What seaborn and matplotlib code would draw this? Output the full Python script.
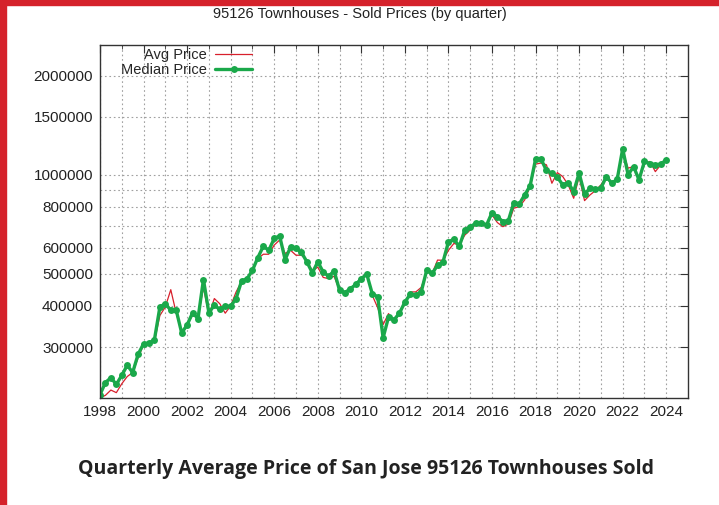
import numpy as np
import pandas as pd
import matplotlib
matplotlib.use("Agg")
import matplotlib.pyplot as plt
from matplotlib.patches import Rectangle
import seaborn as sns

# quarterly sale prices, 1998 Q1 .. 2024 Q1
start_year = 1998
median_price = [
    215000, 234000, 242000, 231000, 246000, 264000, 251000, 285000,
    307000, 308000, 316000, 397000, 406000, 388000, 388000, 331000,
    350000, 381000, 366000, 481000, 381000, 402000, 390000, 399000,
    399000, 421000, 476000, 483000, 513000, 561000, 607000, 590000,
    641000, 652000, 553000, 604000, 598000, 582000, 544000, 504000,
    544000, 507000, 492000, 511000, 446000, 439000, 451000, 465000,
    484000, 499000, 436000, 426000, 320000, 370000, 363000, 380000,
    411000, 434000, 431000, 441000, 513000, 502000, 531000, 544000,
    626000, 637000, 607000, 680000, 696000, 712000, 716000, 704000,
    768000, 746000, 721000, 726000, 823000, 816000, 869000, 926000,
    1117000, 1117000, 1031000, 1012000, 984000, 932000, 947000, 889000,
    1012000, 875000, 910000, 905000, 911000, 988000, 943000, 970000,
    1200000, 1000000, 1060000, 966000, 1098000, 1080000, 1073000, 1078000,
    1111000,
]
avg_price = [
    210000, 214000, 222000, 218000, 232000, 244000, 251000, 278000,
    305000, 310000, 312000, 374000, 397000, 448000, 380000, 333000,
    353000, 374000, 370000, 455000, 375000, 421000, 406000, 380000,
    400000, 441000, 474000, 483000, 510000, 557000, 574000, 574000,
    612000, 634000, 577000, 590000, 570000, 570000, 551000, 510000,
    525000, 488000, 484000, 492000, 446000, 439000, 451000, 465000,
    484000, 499000, 431000, 395000, 351000, 379000, 357000, 379000,
    406000, 441000, 441000, 455000, 507000, 502000, 551000, 550000,
    590000, 619000, 612000, 656000, 680000, 709000, 704000, 709000,
    755000, 716000, 696000, 709000, 792000, 800000, 839000, 921000,
    1078000, 1086000, 1073000, 943000, 1016000, 988000, 932000, 849000,
    988000, 835000, 869000, 896000, 932000, 988000, 932000, 977000,
    1178000, 1048000, 1060000, 966000, 1086000, 1098000, 1023000, 1073000,
    1111000,
]
y_ticks = [300000, 400000, 500000, 600000, 800000, 1000000, 1500000, 2000000]
y_minor = [700000, 900000]
x_ticks = list(range(1998, 2025, 2))

df = pd.DataFrame({
    "quarter": start_year + np.arange(len(median_price)) / 4,
    "Avg Price": avg_price,
    "Median Price": median_price,
})

sns.set_style("white")
plt.rcParams["font.family"] = ["Liberation Sans", "DejaVu Sans"]

fig = plt.figure(figsize=(7.19, 5.05), dpi=100)
ax = fig.add_axes([100 / 719, 1 - 398 / 505, 588 / 719, 353 / 505])

sns.lineplot(data=df, x="quarter", y="Avg Price", ax=ax, color="#d8202c",
             linewidth=0.9, label="Avg Price")
sns.lineplot(data=df, x="quarter", y="Median Price", ax=ax, color="#1aa84a",
             linewidth=2.4, marker="o", markersize=5, markeredgewidth=0,
             label="Median Price")

ax.set_yscale("log")
ax.set_xlim(1998, 2025)
ax.set_ylim(210000, 2480000)
ax.set_yticks(y_ticks)
ax.set_yticklabels([str(v) for v in y_ticks])
ax.set_yticks(y_minor, minor=True)
ax.set_yticklabels([], minor=True)
ax.set_xticks(x_ticks)
ax.set_xticklabels([str(v) for v in x_ticks])
ax.set_xticks(list(range(1999, 2025, 2)), minor=True)
ax.set_xlabel("")
ax.set_ylabel("")

ax.grid(True, which="both", linestyle=(0, (1.5, 2.5)), color="#a0a0a0", linewidth=0.8)
ax.tick_params(which="both", direction="in", top=True, right=True,
               labelsize=11, labelcolor="#222222", color="#333333")
ax.tick_params(which="major", length=6, pad=5)
ax.tick_params(which="minor", length=3)
for s in ax.spines.values():
    s.set_color("#333333")
    s.set_linewidth(1.0)

leg = ax.legend(loc="upper left", bbox_to_anchor=(0.018, 1.02), frameon=False,
                markerfirst=False, fontsize=10.5, handlelength=2.5,
                handletextpad=0.6, labelspacing=0.05, borderaxespad=0.3)

fig.text(0.5, 1 - 14 / 505, "95126 Townhouses - Sold Prices (by quarter)",
         ha="center", va="center", fontsize=10.5, color="#222222")
fig.text(366 / 719, 1 - 469 / 505,
         "Quarterly Average Price of San Jose 95126 Townhouses Sold",
         ha="center", va="center", fontsize=14, fontweight="bold",
         family=["Open Sans", "DejaVu Sans"], color="#222222")

# red frame strips
fig.patches.append(Rectangle((0, 0), 6 / 719, 1, transform=fig.transFigure,
                             color="#d5222b", zorder=0))
fig.patches.append(Rectangle((0, 1 - 5 / 505), 1, 5 / 505, transform=fig.transFigure,
                             color="#d5222b", zorder=0))

fig.savefig("out.png", dpi=100)
